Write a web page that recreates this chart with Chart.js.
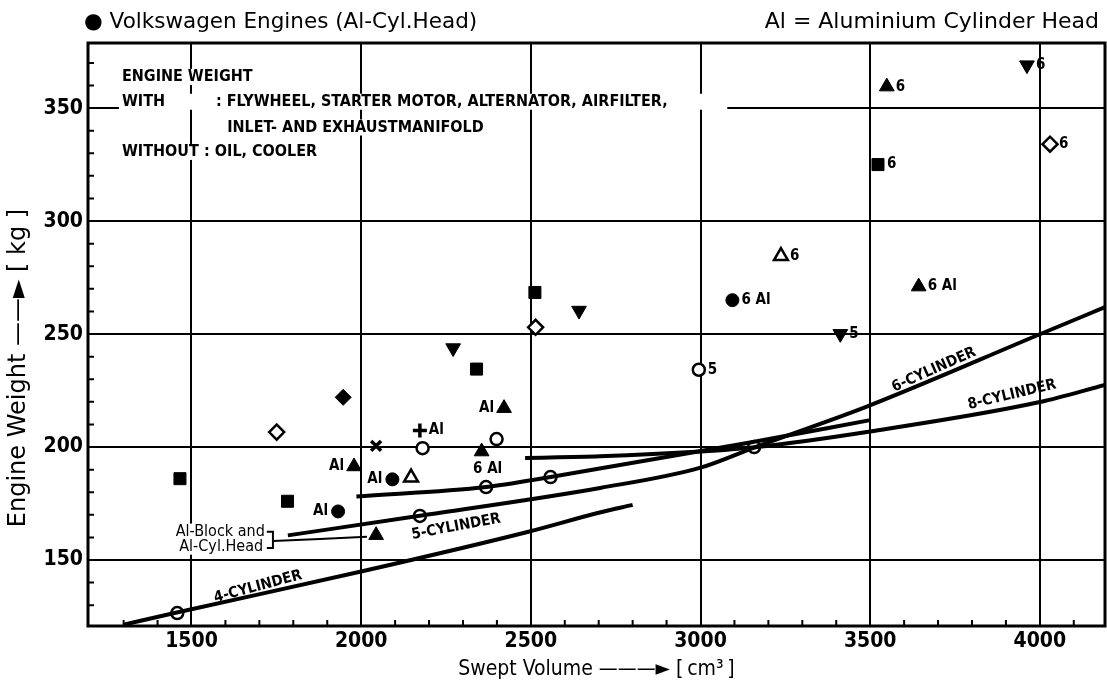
<!DOCTYPE html>
<html>
<head>
<meta charset="utf-8">
<title>Engine weight vs swept volume</title>
<script src="https://cdn.jsdelivr.net/npm/chart.js@4.4.1/dist/chart.umd.min.js"></script>
<style>
  html, body { margin: 0; padding: 0; background: #fff; }
  #wrap { width: 1107px; height: 684px; }
</style>
</head>
<body>
<div id="wrap"><canvas id="chart" width="1107" height="684"></canvas></div>
<script>
const FONT = "'DejaVu Sans Condensed', 'DejaVu Sans', sans-serif";
const WIDE = "'DejaVu Sans', sans-serif";

// axes
const xMin = 1195, xMax = 4192;
const yMin = 120.8, yMax = 378.8;
const xTicks = [1500, 2000, 2500, 3000, 3500, 4000];
const yTicks = [150, 200, 250, 300, 350];

// Volkswagen engines (filled circle)
const vwX = [1932, 2092, 3094];
const vwY = [171.5, 185.7, 265];
const vwTags = ['Al', 'Al', '6 Al'];
const vwSides = ['l', 'l', 'r'];

// open circles
const ocX = [2181, 2399, 2995];
const ocY = [199.5, 203.5, 234.2];
const ocTags = ['', '', '5'];
const ocSides = ['', '', 'r'];

// circles sitting on the curves
const onCurveX = [1458, 2173, 2368, 2558, 3158];
const onCurveY = [126.5, 169.5, 182.3, 186.7, 200];

// filled squares
const sqX = [1466, 1783, 2340, 2512, 3523];
const sqY = [186, 176, 234.5, 268.4, 325];
const sqTags = ['', '', '', '', '6'];
const sqSides = ['', '', '', '', 'r'];

// open diamonds
const odX = [1751, 2514, 4030];
const odY = [206.6, 253, 334];
const odTags = ['', '', '6'];
const odSides = ['', '', 'r'];

// filled diamond
const fdX = [1947];
const fdY = [222];

// filled triangles
const triX = [1979, 2044, 2355, 2421, 3549, 3643];
const triY = [191.4, 161, 198, 217.2, 359.5, 271];
const triTags = ['Al', '', '6 Al', 'Al', '6', '6 Al'];
const triSides = ['l', '', 'b', 'l', 'r', 'r'];

// open triangles
const otX = [2147, 3237];
const otY = [186.5, 284.5];
const otTags = ['', '6'];
const otSides = ['', 'r'];

// filled down triangles
const dtX = [2271, 2642, 3412, 3962];
const dtY = [243.8, 260.4, 250.1, 369];
const dtTags = ['', '', '5', '6'];
const dtSides = ['', '', 'r', 'r'];

// cross and plus
const crossX = [2044];
const crossY = [200.5];
const plusX = [2173];
const plusY = [207.3];
const plusTags = ['Al'];
const plusSides = ['r'];

// trend curves
const curve4X = [1300, 1460, 2000, 2490, 2700, 2800];
const curve4Y = [121.4, 126.9, 144.9, 162.4, 170.9, 174.4];
const curve56X = [1784, 2173, 2704, 3000, 3160, 3490, 4000, 4192];
const curve56Y = [160.9, 169.6, 181.9, 190.9, 199.9, 217.9, 249.9, 261.9];
const curveMidX = [1986, 2368, 2558, 3142, 3500];
const curveMidY = [178.1, 182.3, 186.7, 201.9, 211.9];
const curve8X = [2483, 2704, 3000, 3160, 3500, 4000, 4192];
const curve8Y = [195.2, 195.9, 198, 199.9, 206.9, 219.9, 227.5];

// pointer from the "Al-Block and Al-Cyl.Head" bracket to its triangle
const pointerX = [1740, 2017];
const pointerY = [158.4, 160.3];

function pts(xs, ys) {
    return xs.map((v, i) => ({ x: v, y: ys[i] }));
}

function markers(xs, ys, style, fill, radius, tags, sides) {
    return {
        type: 'scatter',
        data: pts(xs, ys),
        pointStyle: style,
        pointRadius: radius,
        pointHoverRadius: radius,
        pointBackgroundColor: fill,
        pointBorderColor: '#000',
        pointBorderWidth: fill === '#000' ? 1 : 2.5,
        tags: tags,
        sides: sides,
        order: 0
    };
}

function curve(xs, ys, width) {
    return {
        type: 'line',
        data: pts(xs, ys),
        borderColor: '#000',
        borderWidth: width,
        pointRadius: 0,
        cubicInterpolationMode: 'monotone',
        fill: false,
        order: 5
    };
}

// texts inside the plot, placed in data units
const notes = [
    { x: 1295, y: 363.8, text: 'ENGINE WEIGHT', font: 'bold 16px', bg: true },
    { x: 1295, y: 352.8, text: 'WITH', font: 'bold 16px', bg: true, bgTo: 1580 },
    { x: 1572, y: 352.8, text: ': FLYWHEEL, STARTER MOTOR, ALTERNATOR, AIRFILTER,', font: 'bold 16px', bg: true, bgTo: 3070 },
    { x: 1605, y: 341.4, text: 'INLET- AND EXHAUSTMANIFOLD', font: 'bold 16px', bg: true },
    { x: 1295, y: 330.6, text: 'WITHOUT', font: 'bold 16px', bg: true },
    { x: 1537, y: 330.6, text: ': OIL, COOLER', font: 'bold 16px', bg: true },
    { x: 1696, y: 138.2, text: '4-CYLINDER', font: 'bold 15px', rot: -15, align: 'center' },
    { x: 2280, y: 164.7, text: '5-CYLINDER', font: 'bold 15px', rot: -10.6, align: 'center' },
    { x: 3688, y: 234.2, text: '6-CYLINDER', font: 'bold 15px', rot: -24, align: 'center' },
    { x: 3918, y: 223.1, text: '8-CYLINDER', font: 'bold 15px', rot: -13.3, align: 'center' },
    { x: 1716, y: 162.6, text: 'Al-Block and', font: '16px', align: 'right', bg: true },
    { x: 1711, y: 155.9, text: 'Al-Cyl.Head', font: '16px', align: 'right', bg: true }
];

const annotate = {
    id: 'annotate',
    afterDatasetsDraw(chart) {
        const { ctx } = chart;
        const sx = chart.scales.x, sy = chart.scales.y;
        ctx.save();
        ctx.fillStyle = '#000';
        ctx.textBaseline = 'middle';

        // labels next to markers
        chart.data.datasets.forEach((ds, i) => {
            if (!ds.tags) return;
            chart.getDatasetMeta(i).data.forEach((p, j) => {
                const t = ds.tags[j];
                if (!t) return;
                ctx.font = 'bold 15px ' + FONT;
                if (ds.sides[j] === 'l') {
                    ctx.textAlign = 'right';
                    ctx.fillText(t, p.x - 10, p.y);
                } else if (ds.sides[j] === 'b') {
                    ctx.textAlign = 'center';
                    ctx.fillText(t, p.x + 6, p.y + 18);
                } else {
                    ctx.textAlign = 'left';
                    ctx.fillText(t, p.x + 9, p.y);
                }
            });
        });

        // free texts
        notes.forEach(n => {
            const px = sx.getPixelForValue(n.x), py = sy.getPixelForValue(n.y);
            ctx.save();
            ctx.translate(px, py);
            if (n.rot) ctx.rotate(n.rot * Math.PI / 180);
            ctx.font = n.font + ' ' + FONT;
            ctx.textAlign = n.align || 'left';
            if (n.bg) {
                const w = n.bgTo ? sx.getPixelForValue(n.bgTo) - px : ctx.measureText(n.text).width;
                const x0 = n.align === 'right' ? -w : 0;
                ctx.fillStyle = '#fff';
                ctx.fillRect(x0 - 3, -8, w + 6, 16);
            }
            ctx.fillStyle = '#000';
            ctx.fillText(n.text, 0, 0);
            ctx.restore();
        });

        // bracket for the Al-Block engines
        const bx = sx.getPixelForValue(1740), bx0 = sx.getPixelForValue(1722);
        const by1 = sy.getPixelForValue(162.5), by2 = sy.getPixelForValue(155.3);
        ctx.lineWidth = 2;
        ctx.strokeStyle = '#000';
        ctx.beginPath();
        ctx.moveTo(bx0, by1); ctx.lineTo(bx, by1); ctx.lineTo(bx, by2); ctx.lineTo(bx0, by2);
        ctx.stroke();
        ctx.restore();
    },
    afterDraw(chart) {
        const { ctx, chartArea: a } = chart;
        const sx = chart.scales.x, sy = chart.scales.y;
        ctx.save();
        ctx.strokeStyle = '#000';

        // minor ticks pointing into the plot
        ctx.lineWidth = 2;
        ctx.beginPath();
        for (let v = 1300; v < xMax; v += 100) {
            if (v % 500 === 0) continue;
            const px = sx.getPixelForValue(v);
            ctx.moveTo(px, a.bottom);
            ctx.lineTo(px, a.bottom - 6);
        }
        for (let v = 130; v < yMax; v += 10) {
            if (v % 50 === 0) continue;
            const py = sy.getPixelForValue(v);
            ctx.moveTo(a.left, py);
            ctx.lineTo(a.left + 6, py);
        }
        ctx.stroke();

        // frame
        ctx.lineWidth = 3;
        ctx.strokeRect(a.left, a.top, a.right - a.left, a.bottom - a.top);

        // headings above the plot
        ctx.fillStyle = '#000';
        ctx.textBaseline = 'middle';
        ctx.font = '21.5px ' + WIDE;
        ctx.textAlign = 'left';
        ctx.fillText('\u25CF Volkswagen Engines (Al-Cyl.Head)', 84, 22);
        ctx.font = '22px ' + WIDE;
        ctx.textAlign = 'right';
        ctx.fillText('Al = Aluminium Cylinder Head', 1099, 22);

        // y axis title
        ctx.save();
        ctx.translate(19, 368);
        ctx.rotate(-Math.PI / 2);
        ctx.textAlign = 'center';
        ctx.font = '24px ' + WIDE;
        ctx.fillText('Engine Weight \u2014\u2014\u25BA [ kg ]', 0, 0);
        ctx.restore();
        ctx.restore();
    }
};

new Chart(document.getElementById('chart'), {
    type: 'scatter',
    data: {
        datasets: [
            curve(curve4X, curve4Y, 4),
            curve(curve56X, curve56Y, 4),
            curve(curveMidX, curveMidY, 4),
            curve(curve8X, curve8Y, 4),
            curve(pointerX, pointerY, 2),
            markers(onCurveX, onCurveY, 'circle', 'rgba(0,0,0,0)', 6),
            markers(vwX, vwY, 'circle', '#000', 6.5, vwTags, vwSides),
            markers(ocX, ocY, 'circle', '#fff', 6, ocTags, ocSides),
            markers(sqX, sqY, 'rect', '#000', 8.5, sqTags, sqSides),
            markers(odX, odY, 'rectRot', '#fff', 7.5, odTags, odSides),
            markers(fdX, fdY, 'rectRot', '#000', 8),
            markers(triX, triY, 'triangle', '#000', 8.5, triTags, triSides),
            markers(otX, otY, 'triangle', '#fff', 8, otTags, otSides),
            Object.assign(markers(dtX, dtY, 'triangle', '#000', 8.5, dtTags, dtSides), { rotation: 180 }),
            Object.assign(markers(crossX, crossY, 'crossRot', '#fff', 7), { pointBorderWidth: 3.5 }),
            Object.assign(markers(plusX, plusY, 'cross', '#fff', 7, plusTags, plusSides), { pointBorderWidth: 3.5 })
        ]
    },
    options: {
        responsive: false,
        animation: false,
        layout: { autoPadding: false, padding: { top: 43, right: 2, left: 0, bottom: 0 } },
        plugins: { legend: { display: false }, tooltip: { enabled: false } },
        scales: {
            x: {
                type: 'linear',
                min: xMin,
                max: xMax,
                afterFit(scale) {
                    scale.height = 58;
                    scale.paddingLeft = 0;
                    scale.paddingRight = 0;
                },
                afterBuildTicks(scale) { scale.ticks = xTicks.map(v => ({ value: v })); },
                ticks: {
                    color: '#000',
                    padding: 3,
                    maxRotation: 0,
                    autoSkip: false,
                    font: { family: FONT, size: 21, weight: 'bold' },
                    callback: v => String(v)
                },
                grid: { color: '#000', lineWidth: 2, drawTicks: false },
                border: { display: false },
                title: {
                    display: true,
                    text: 'Swept Volume \u2014\u2014\u2014\u25BA [\u2009cm\u00B3\u2009]',
                    color: '#000',
                    font: { family: FONT, size: 21 },
                    padding: { top: 0, bottom: 2 }
                }
            },
            y: {
                type: 'linear',
                min: yMin,
                max: yMax,
                afterFit(scale) {
                    scale.width = 88;
                    scale.paddingTop = 0;
                    scale.paddingBottom = 0;
                },
                afterBuildTicks(scale) { scale.ticks = yTicks.map(v => ({ value: v })); },
                ticks: {
                    color: '#000',
                    padding: 5,
                    autoSkip: false,
                    font: { family: FONT, size: 21, weight: 'bold' },
                    callback: v => String(v)
                },
                grid: { color: '#000', lineWidth: 2, drawTicks: false },
                border: { display: false }
            }
        }
    },
    plugins: [annotate]
});
</script>
</body>
</html>
